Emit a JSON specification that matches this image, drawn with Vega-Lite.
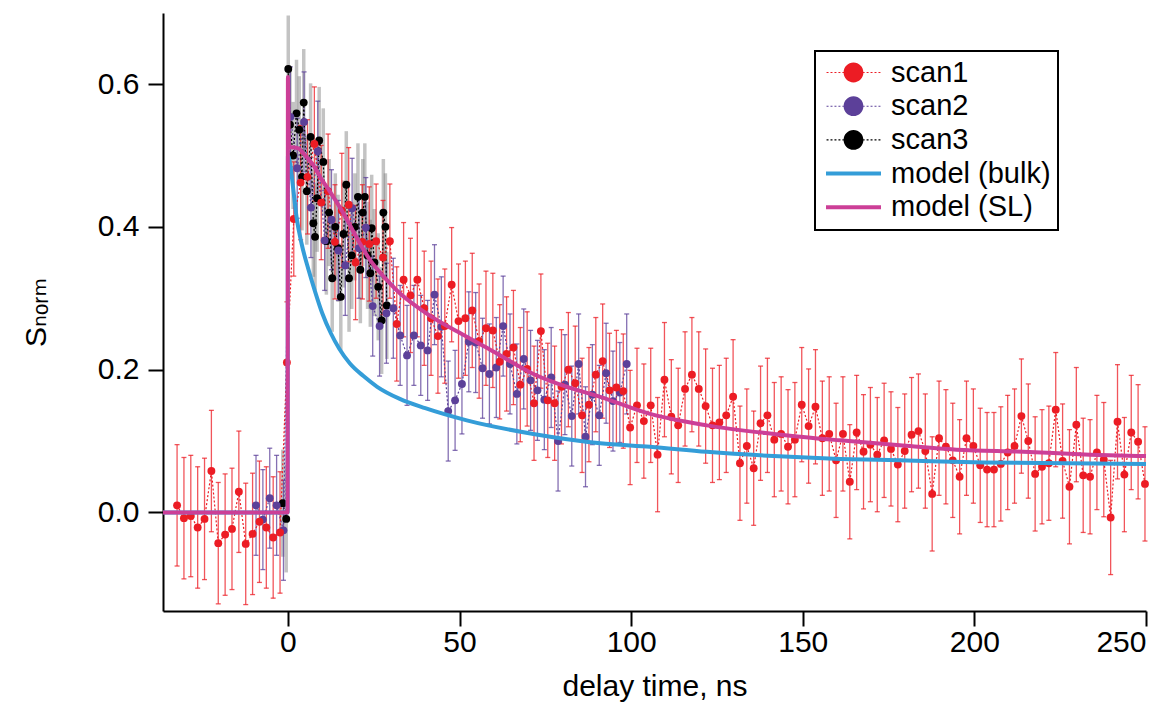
{
  "$schema": "https://vega.github.io/schema/vega-lite/v6.json",
  "width": 983,
  "height": 598,
  "autosize": {"type": "none"},
  "padding": {"left": 163, "top": 13, "right": 27, "bottom": 93},
  "background": "white",
  "config": {
    "view": {"stroke": null},
    "font": "Liberation Sans",
    "legend": {"strokeWidth": 2},
    "axis": {
      "labelFont": "Liberation Sans", "labelFontSize": 30, "labelColor": "black",
      "titleFont": "Liberation Sans, DejaVu Sans", "titleFontSize": 30, "titleFontWeight": "normal", "titleColor": "black",
      "domainColor": "black", "domainWidth": 2, "tickColor": "black", "tickWidth": 2, "tickSize": 15, "grid": false
    }
  },
  "datasets": {
    "pts": [
      {"s":"scan3","x":-1.5,"y":0.013,"e":0.075},{"s":"scan3","x":-0.5,"y":-0.009,"e":0.075},{"s":"scan3","x":0.1,"y":0.621,"e":0.075},{"s":"scan3","x":0.6,"y":0.543,"e":0.075},{"s":"scan3","x":1.5,"y":0.50,"e":0.075},{"s":"scan3","x":2.5,"y":0.559,"e":0.075},{"s":"scan3","x":3.3,"y":0.536,"e":0.075},{"s":"scan3","x":4.1,"y":0.47,"e":0.075},{"s":"scan3","x":4.6,"y":0.574,"e":0.075},{"s":"scan3","x":5.5,"y":0.45,"e":0.075},{"s":"scan3","x":6.6,"y":0.526,"e":0.075},{"s":"scan3","x":7.4,"y":0.405,"e":0.075},{"s":"scan3","x":7.9,"y":0.386,"e":0.075},{"s":"scan3","x":8.5,"y":0.44,"e":0.075},{"s":"scan3","x":9.1,"y":0.521,"e":0.075},{"s":"scan3","x":10.3,"y":0.491,"e":0.075},{"s":"scan3","x":11.2,"y":0.38,"e":0.075},{"s":"scan3","x":12.0,"y":0.42,"e":0.075},{"s":"scan3","x":12.9,"y":0.328,"e":0.075},{"s":"scan3","x":13.8,"y":0.40,"e":0.075},{"s":"scan3","x":14.6,"y":0.37,"e":0.075},{"s":"scan3","x":15.4,"y":0.302,"e":0.075},{"s":"scan3","x":16.2,"y":0.39,"e":0.075},{"s":"scan3","x":17.0,"y":0.459,"e":0.075},{"s":"scan3","x":17.8,"y":0.328,"e":0.075},{"s":"scan3","x":18.6,"y":0.36,"e":0.075},{"s":"scan3","x":19.5,"y":0.40,"e":0.075},{"s":"scan3","x":20.4,"y":0.442,"e":0.075},{"s":"scan3","x":21.1,"y":0.34,"e":0.075},{"s":"scan3","x":21.8,"y":0.42,"e":0.075},{"s":"scan3","x":22.4,"y":0.442,"e":0.075},{"s":"scan3","x":23.2,"y":0.36,"e":0.075},{"s":"scan3","x":24.0,"y":0.335,"e":0.075},{"s":"scan3","x":24.4,"y":0.398,"e":0.075},{"s":"scan3","x":25.2,"y":0.35,"e":0.075},{"s":"scan3","x":26.3,"y":0.316,"e":0.075},{"s":"scan3","x":27.3,"y":0.269,"e":0.075},{"s":"scan3","x":27.8,"y":0.42,"e":0.075},{"s":"scan3","x":28.4,"y":0.40,"e":0.075},{"s":"scan3","x":28.8,"y":0.29,"e":0.075},

      {"s":"scan2","x":-9.3,"y":0.010,"e":0.07},{"s":"scan2","x":-7.3,"y":-0.010,"e":0.07},{"s":"scan2","x":-5.3,"y":0.020,"e":0.07},{"s":"scan2","x":-3.3,"y":0.010,"e":0.07},{"s":"scan2","x":-1.3,"y":-0.025,"e":0.07},{"s":"scan2","x":0.7,"y":0.554,"e":0.07},{"s":"scan2","x":2.7,"y":0.482,"e":0.07},{"s":"scan2","x":4.7,"y":0.547,"e":0.07},{"s":"scan2","x":6.7,"y":0.427,"e":0.07},{"s":"scan2","x":8.7,"y":0.506,"e":0.07},{"s":"scan2","x":10.7,"y":0.381,"e":0.07},{"s":"scan2","x":12.7,"y":0.410,"e":0.07},{"s":"scan2","x":14.7,"y":0.367,"e":0.07},{"s":"scan2","x":16.7,"y":0.346,"e":0.07},{"s":"scan2","x":18.7,"y":0.426,"e":0.07},{"s":"scan2","x":20.7,"y":0.37,"e":0.07},{"s":"scan2","x":22.7,"y":0.399,"e":0.07},{"s":"scan2","x":24.7,"y":0.289,"e":0.07},{"s":"scan2","x":26.7,"y":0.261,"e":0.07},{"s":"scan2","x":28.7,"y":0.279,"e":0.07},{"s":"scan2","x":30.7,"y":0.286,"e":0.07},{"s":"scan2","x":32.7,"y":0.248,"e":0.07},{"s":"scan2","x":34.7,"y":0.220,"e":0.07},{"s":"scan2","x":36.7,"y":0.248,"e":0.07},{"s":"scan2","x":38.7,"y":0.234,"e":0.07},{"s":"scan2","x":40.7,"y":0.227,"e":0.07},{"s":"scan2","x":42.7,"y":0.305,"e":0.07},{"s":"scan2","x":44.7,"y":0.260,"e":0.07},{"s":"scan2","x":46.7,"y":0.142,"e":0.07},{"s":"scan2","x":48.7,"y":0.157,"e":0.07},{"s":"scan2","x":50.7,"y":0.180,"e":0.07},{"s":"scan2","x":52.7,"y":0.239,"e":0.07},{"s":"scan2","x":54.7,"y":0.238,"e":0.07},{"s":"scan2","x":56.7,"y":0.202,"e":0.07},{"s":"scan2","x":58.7,"y":0.194,"e":0.07},{"s":"scan2","x":60.7,"y":0.203,"e":0.07},{"s":"scan2","x":62.7,"y":0.261,"e":0.07},{"s":"scan2","x":64.7,"y":0.208,"e":0.07},{"s":"scan2","x":66.7,"y":0.166,"e":0.07},{"s":"scan2","x":68.7,"y":0.215,"e":0.07},{"s":"scan2","x":70.7,"y":0.185,"e":0.07},{"s":"scan2","x":72.7,"y":0.171,"e":0.07},{"s":"scan2","x":74.7,"y":0.158,"e":0.07},{"s":"scan2","x":76.7,"y":0.189,"e":0.07},{"s":"scan2","x":78.7,"y":0.100,"e":0.07},{"s":"scan2","x":80.7,"y":0.179,"e":0.07},{"s":"scan2","x":82.7,"y":0.135,"e":0.07},{"s":"scan2","x":84.7,"y":0.208,"e":0.07},{"s":"scan2","x":86.7,"y":0.106,"e":0.07},{"s":"scan2","x":88.7,"y":0.165,"e":0.07},{"s":"scan2","x":90.7,"y":0.136,"e":0.07},{"s":"scan2","x":92.7,"y":0.195,"e":0.07},{"s":"scan2","x":94.7,"y":0.156,"e":0.07},{"s":"scan2","x":96.7,"y":0.168,"e":0.07},{"s":"scan2","x":98.7,"y":0.208,"e":0.07},

      {"s":"scan1","x":-32.3,"y":0.010,"e":0.085},{"s":"scan1","x":-30.3,"y":-0.008,"e":0.085},{"s":"scan1","x":-28.3,"y":-0.005,"e":0.085},{"s":"scan1","x":-26.3,"y":-0.021,"e":0.085},{"s":"scan1","x":-24.3,"y":-0.009,"e":0.085},{"s":"scan1","x":-22.3,"y":0.058,"e":0.085},{"s":"scan1","x":-20.3,"y":-0.043,"e":0.085},{"s":"scan1","x":-18.3,"y":-0.031,"e":0.085},{"s":"scan1","x":-16.3,"y":-0.023,"e":0.085},{"s":"scan1","x":-14.3,"y":0.029,"e":0.085},{"s":"scan1","x":-12.3,"y":-0.044,"e":0.085},{"s":"scan1","x":-10.3,"y":-0.030,"e":0.085},{"s":"scan1","x":-8.3,"y":-0.013,"e":0.085},{"s":"scan1","x":-6.3,"y":-0.021,"e":0.085},{"s":"scan1","x":-4.3,"y":-0.035,"e":0.085},{"s":"scan1","x":-2.3,"y":-0.028,"e":0.085},{"s":"scan1","x":-0.3,"y":0.21,"e":0.085},
      {"s":"scan1","x":1.7,"y":0.411,"e":0.08},{"s":"scan1","x":3.7,"y":0.462,"e":0.08},{"s":"scan1","x":5.7,"y":0.470,"e":0.08},{"s":"scan1","x":7.7,"y":0.516,"e":0.08},{"s":"scan1","x":9.7,"y":0.434,"e":0.08},{"s":"scan1","x":11.7,"y":0.450,"e":0.08},{"s":"scan1","x":13.7,"y":0.379,"e":0.08},{"s":"scan1","x":15.7,"y":0.423,"e":0.08},{"s":"scan1","x":17.7,"y":0.431,"e":0.08},{"s":"scan1","x":19.7,"y":0.350,"e":0.08},{"s":"scan1","x":21.7,"y":0.379,"e":0.08},{"s":"scan1","x":23.7,"y":0.376,"e":0.08},{"s":"scan1","x":25.7,"y":0.380,"e":0.08},{"s":"scan1","x":27.7,"y":0.357,"e":0.08},{"s":"scan1","x":29.7,"y":0.380,"e":0.08},{"s":"scan1","x":31.7,"y":0.264,"e":0.08},{"s":"scan1","x":33.7,"y":0.326,"e":0.08},{"s":"scan1","x":35.7,"y":0.304,"e":0.08},{"s":"scan1","x":37.7,"y":0.326,"e":0.08},{"s":"scan1","x":39.7,"y":0.286,"e":0.08},{"s":"scan1","x":41.7,"y":0.272,"e":0.08},{"s":"scan1","x":43.7,"y":0.247,"e":0.08},{"s":"scan1","x":45.7,"y":0.261,"e":0.08},{"s":"scan1","x":47.7,"y":0.319,"e":0.08},{"s":"scan1","x":49.7,"y":0.268,"e":0.08},{"s":"scan1","x":51.7,"y":0.272,"e":0.08},{"s":"scan1","x":53.7,"y":0.283,"e":0.08},{"s":"scan1","x":55.7,"y":0.240,"e":0.08},{"s":"scan1","x":57.7,"y":0.258,"e":0.08},{"s":"scan1","x":59.7,"y":0.255,"e":0.08},{"s":"scan1","x":61.7,"y":0.211,"e":0.08},{"s":"scan1","x":63.7,"y":0.222,"e":0.08},{"s":"scan1","x":65.7,"y":0.231,"e":0.08},{"s":"scan1","x":67.7,"y":0.179,"e":0.08},{"s":"scan1","x":69.7,"y":0.201,"e":0.08},{"s":"scan1","x":71.7,"y":0.153,"e":0.08},{"s":"scan1","x":73.7,"y":0.254,"e":0.08},{"s":"scan1","x":75.7,"y":0.157,"e":0.08},{"s":"scan1","x":77.7,"y":0.153,"e":0.08},{"s":"scan1","x":79.7,"y":0.176,"e":0.08},{"s":"scan1","x":81.7,"y":0.200,"e":0.08},{"s":"scan1","x":83.7,"y":0.181,"e":0.08},{"s":"scan1","x":85.7,"y":0.136,"e":0.08},{"s":"scan1","x":87.7,"y":0.151,"e":0.08},{"s":"scan1","x":89.7,"y":0.193,"e":0.08},{"s":"scan1","x":91.7,"y":0.212,"e":0.08},{"s":"scan1","x":93.7,"y":0.171,"e":0.08},{"s":"scan1","x":95.7,"y":0.175,"e":0.08},{"s":"scan1","x":97.7,"y":0.170,"e":0.08},{"s":"scan1","x":99.7,"y":0.119,"e":0.08},{"s":"scan1","x":101.7,"y":0.150,"e":0.08},{"s":"scan1","x":103.7,"y":0.128,"e":0.08},{"s":"scan1","x":105.7,"y":0.150,"e":0.08},{"s":"scan1","x":107.7,"y":0.081,"e":0.08},{"s":"scan1","x":109.7,"y":0.186,"e":0.08},{"s":"scan1","x":111.7,"y":0.134,"e":0.08},{"s":"scan1","x":113.7,"y":0.122,"e":0.08},{"s":"scan1","x":115.7,"y":0.173,"e":0.08},{"s":"scan1","x":117.7,"y":0.193,"e":0.08},{"s":"scan1","x":119.7,"y":0.173,"e":0.08},{"s":"scan1","x":121.7,"y":0.149,"e":0.08},{"s":"scan1","x":123.7,"y":0.122,"e":0.08},{"s":"scan1","x":125.7,"y":0.126,"e":0.08},{"s":"scan1","x":127.7,"y":0.136,"e":0.08},{"s":"scan1","x":129.7,"y":0.162,"e":0.08},{"s":"scan1","x":131.7,"y":0.069,"e":0.08},{"s":"scan1","x":133.7,"y":0.093,"e":0.08},{"s":"scan1","x":135.7,"y":0.062,"e":0.08},{"s":"scan1","x":137.7,"y":0.125,"e":0.08},{"s":"scan1","x":139.7,"y":0.136,"e":0.08},{"s":"scan1","x":141.7,"y":0.102,"e":0.08},{"s":"scan1","x":143.7,"y":0.110,"e":0.08},{"s":"scan1","x":145.7,"y":0.092,"e":0.08},{"s":"scan1","x":147.7,"y":0.102,"e":0.08},{"s":"scan1","x":149.7,"y":0.151,"e":0.08},{"s":"scan1","x":151.7,"y":0.121,"e":0.08},{"s":"scan1","x":153.7,"y":0.148,"e":0.08},{"s":"scan1","x":155.7,"y":0.104,"e":0.08},{"s":"scan1","x":157.7,"y":0.110,"e":0.08},{"s":"scan1","x":159.7,"y":0.073,"e":0.08},{"s":"scan1","x":161.7,"y":0.110,"e":0.08},{"s":"scan1","x":163.7,"y":0.043,"e":0.08},{"s":"scan1","x":165.7,"y":0.112,"e":0.08},{"s":"scan1","x":167.7,"y":0.085,"e":0.08},{"s":"scan1","x":169.7,"y":0.095,"e":0.08},{"s":"scan1","x":171.7,"y":0.081,"e":0.08},{"s":"scan1","x":173.7,"y":0.101,"e":0.08},{"s":"scan1","x":175.7,"y":0.089,"e":0.08},{"s":"scan1","x":177.7,"y":0.067,"e":0.08},{"s":"scan1","x":179.7,"y":0.086,"e":0.08},{"s":"scan1","x":181.7,"y":0.109,"e":0.08},{"s":"scan1","x":183.7,"y":0.114,"e":0.08},{"s":"scan1","x":185.7,"y":0.086,"e":0.08},{"s":"scan1","x":187.7,"y":0.026,"e":0.08},{"s":"scan1","x":189.7,"y":0.104,"e":0.08},{"s":"scan1","x":191.7,"y":0.092,"e":0.08},{"s":"scan1","x":193.7,"y":0.073,"e":0.08},{"s":"scan1","x":195.7,"y":0.050,"e":0.08},{"s":"scan1","x":197.7,"y":0.104,"e":0.08},{"s":"scan1","x":199.7,"y":0.093,"e":0.08},{"s":"scan1","x":201.7,"y":0.066,"e":0.08},{"s":"scan1","x":203.7,"y":0.060,"e":0.08},{"s":"scan1","x":205.7,"y":0.060,"e":0.08},{"s":"scan1","x":207.7,"y":0.068,"e":0.08},{"s":"scan1","x":209.7,"y":0.084,"e":0.08},{"s":"scan1","x":211.7,"y":0.093,"e":0.08},{"s":"scan1","x":213.7,"y":0.135,"e":0.08},{"s":"scan1","x":215.7,"y":0.100,"e":0.08},{"s":"scan1","x":217.7,"y":0.054,"e":0.08},{"s":"scan1","x":219.7,"y":0.064,"e":0.08},{"s":"scan1","x":221.7,"y":0.069,"e":0.08},{"s":"scan1","x":223.7,"y":0.144,"e":0.08},{"s":"scan1","x":225.7,"y":0.072,"e":0.08},{"s":"scan1","x":227.7,"y":0.036,"e":0.08},{"s":"scan1","x":229.7,"y":0.123,"e":0.08},{"s":"scan1","x":231.7,"y":0.052,"e":0.08},{"s":"scan1","x":233.7,"y":0.050,"e":0.08},{"s":"scan1","x":235.7,"y":0.084,"e":0.08},{"s":"scan1","x":237.7,"y":0.074,"e":0.08},{"s":"scan1","x":239.7,"y":-0.007,"e":0.08},{"s":"scan1","x":241.7,"y":0.127,"e":0.08},{"s":"scan1","x":243.7,"y":0.053,"e":0.08},{"s":"scan1","x":245.7,"y":0.112,"e":0.08},{"s":"scan1","x":247.7,"y":0.099,"e":0.08},{"s":"scan1","x":249.7,"y":0.040,"e":0.08}
    ],
    "mdl": [
      {"s":"model (bulk)","x":-36.4,"y":0},{"s":"model (bulk)","x":-0.1,"y":0},{"s":"model (bulk)","x":0.0,"y":0.50},{"s":"model (bulk)","x":0.8,"y":0.483},{"s":"model (bulk)","x":1.5,"y":0.455},{"s":"model (bulk)","x":2.5,"y":0.414},{"s":"model (bulk)","x":4,"y":0.376},{"s":"model (bulk)","x":6,"y":0.340},{"s":"model (bulk)","x":8,"y":0.308},{"s":"model (bulk)","x":10,"y":0.279},{"s":"model (bulk)","x":12.5,"y":0.251},{"s":"model (bulk)","x":15,"y":0.229},{"s":"model (bulk)","x":18,"y":0.209},{"s":"model (bulk)","x":22,"y":0.191},{"s":"model (bulk)","x":26,"y":0.176},{"s":"model (bulk)","x":32.6,"y":0.159},{"s":"model (bulk)","x":40,"y":0.146},{"s":"model (bulk)","x":52.1,"y":0.129},{"s":"model (bulk)","x":71.5,"y":0.11},{"s":"model (bulk)","x":91,"y":0.097},{"s":"model (bulk)","x":105.5,"y":0.092},{"s":"model (bulk)","x":122,"y":0.085},{"s":"model (bulk)","x":141.5,"y":0.079},{"s":"model (bulk)","x":160.8,"y":0.075},{"s":"model (bulk)","x":178.3,"y":0.073},{"s":"model (bulk)","x":203,"y":0.07},{"s":"model (bulk)","x":250,"y":0.068},
      {"s":"model (SL)","x":-36.4,"y":0},{"s":"model (SL)","x":-0.1,"y":0},{"s":"model (SL)","x":0.0,"y":0.61},{"s":"model (SL)","x":0.3,"y":0.512},{"s":"model (SL)","x":3,"y":0.51},{"s":"model (SL)","x":5,"y":0.50},{"s":"model (SL)","x":7,"y":0.489},{"s":"model (SL)","x":10,"y":0.465},{"s":"model (SL)","x":12,"y":0.451},{"s":"model (SL)","x":17,"y":0.412},{"s":"model (SL)","x":20,"y":0.385},{"s":"model (SL)","x":24,"y":0.353},{"s":"model (SL)","x":28,"y":0.33},{"s":"model (SL)","x":32.6,"y":0.307},{"s":"model (SL)","x":40,"y":0.28},{"s":"model (SL)","x":52.1,"y":0.246},{"s":"model (SL)","x":60,"y":0.225},{"s":"model (SL)","x":71.5,"y":0.194},{"s":"model (SL)","x":80,"y":0.178},{"s":"model (SL)","x":91,"y":0.162},{"s":"model (SL)","x":105.5,"y":0.138},{"s":"model (SL)","x":122,"y":0.122},{"s":"model (SL)","x":141.5,"y":0.11},{"s":"model (SL)","x":160.8,"y":0.101},{"s":"model (SL)","x":178.3,"y":0.094},{"s":"model (SL)","x":194.8,"y":0.088},{"s":"model (SL)","x":214.2,"y":0.085},{"s":"model (SL)","x":233.7,"y":0.081},{"s":"model (SL)","x":250,"y":0.079}
    ]
  },
  "encoding": {
    "x": {"field": "x", "type": "quantitative",
      "scale": {"domain": [-36.4, 250], "nice": false, "zero": false},
      "axis": {"values": [0, 50, 100, 150, 200, 250], "title": "delay time, ns", "labelPadding": 1, "titlePadding": 14}},
    "y": {"field": "y", "type": "quantitative",
      "scale": {"domain": [-0.138, 0.6995], "nice": false, "zero": false},
      "axis": {"values": [0, 0.2, 0.4, 0.6], "format": ".1f", "title": "S\u2099\u2092\u1d63\u2098", "labelPadding": 9, "titlePadding": 46}}
  },
  "layer": [
    {"data": {"name": "pts"}, "transform": [{"filter": "datum.s == 'none'"}],
     "mark": {"type": "point", "filled": true},
     "encoding": {
       "color": {"field": "s", "type": "nominal",
         "scale": {"domain": ["scan1", "scan2", "scan3", "model (bulk)", "model (SL)"], "range": ["#ec1c24", "#5c4099", "#000000", "#349dd8", "#cc3f97"]},
         "legend": {"orient": "none", "legendX": 652, "legendY": 38, "title": null, "strokeColor": "black", "padding": 7,
           "labelFont": "Liberation Sans", "labelFontSize": 29, "labelColor": "black", "labelLimit": 400, "labelOffset": 23,
           "symbolOffset": 17, "symbolSize": 484, "symbolStrokeWidth": 0, "symbolOpacity": 1, "rowPadding": 3.7}},
       "shape": {"field": "s", "type": "nominal",
         "scale": {"domain": ["scan1", "scan2", "scan3", "model (bulk)", "model (SL)"],
           "range": [
             "M-0.9,0A0.9,0.9,0,1,0,0.9,0A0.9,0.9,0,1,0,-0.9,0Z M-2.45,-0.05H-2.27V0.05H-2.45Z M-2.09,-0.05H-1.91V0.05H-2.09Z M-1.73,-0.05H-1.55V0.05H-1.73Z M-1.37,-0.05H-1.19V0.05H-1.37Z M-1.01,-0.05H-0.9V0.05H-1.01Z M0.9,-0.05H1.01V0.05H0.9Z M1.19,-0.05H1.37V0.05H1.19Z M1.55,-0.05H1.73V0.05H1.55Z M1.91,-0.05H2.09V0.05H1.91Z M2.27,-0.05H2.45V0.05H2.27Z",
             "M-0.9,0A0.9,0.9,0,1,0,0.9,0A0.9,0.9,0,1,0,-0.9,0Z M-2.45,-0.05H-2.27V0.05H-2.45Z M-2.09,-0.05H-1.91V0.05H-2.09Z M-1.73,-0.05H-1.55V0.05H-1.73Z M-1.37,-0.05H-1.19V0.05H-1.37Z M-1.01,-0.05H-0.9V0.05H-1.01Z M0.9,-0.05H1.01V0.05H0.9Z M1.19,-0.05H1.37V0.05H1.19Z M1.55,-0.05H1.73V0.05H1.55Z M1.91,-0.05H2.09V0.05H1.91Z M2.27,-0.05H2.45V0.05H2.27Z",
             "M-0.9,0A0.9,0.9,0,1,0,0.9,0A0.9,0.9,0,1,0,-0.9,0Z M-2.45,-0.05H-2.27V0.05H-2.45Z M-2.09,-0.05H-1.91V0.05H-2.09Z M-1.73,-0.05H-1.55V0.05H-1.73Z M-1.37,-0.05H-1.19V0.05H-1.37Z M-1.01,-0.05H-0.9V0.05H-1.01Z M0.9,-0.05H1.01V0.05H0.9Z M1.19,-0.05H1.37V0.05H1.19Z M1.55,-0.05H1.73V0.05H1.55Z M1.91,-0.05H2.09V0.05H1.91Z M2.27,-0.05H2.45V0.05H2.27Z",
             "M-2.5,-0.18H2.5V0.18H-2.5Z",
             "M-2.5,-0.18H2.5V0.18H-2.5Z"]},
         "legend": {"orient": "none", "legendX": 652, "legendY": 38, "title": null, "strokeColor": "black", "padding": 7,
           "labelFont": "Liberation Sans", "labelFontSize": 29, "labelColor": "black", "labelLimit": 400, "labelOffset": 23,
           "symbolOffset": 17, "symbolSize": 484, "symbolStrokeWidth": 0, "symbolOpacity": 1, "rowPadding": 3.7}}
     }},
    {"data": {"name": "pts"}, "transform": [{"filter": "datum.s == 'scan3'"}],
     "mark": {"type": "errorbar", "color": "#7a7a7a", "opacity": 0.45, "thickness": 3.5},
     "encoding": {"yError": {"field": "e"}}},
    {"data": {"name": "pts"}, "transform": [{"filter": "datum.s == 'scan2'"}],
     "mark": {"type": "errorbar", "color": "#5c4099", "opacity": 0.75, "thickness": 1.3, "ticks": {"size": 5}},
     "encoding": {"yError": {"field": "e"}}},
    {"data": {"name": "pts"}, "transform": [{"filter": "datum.s == 'scan1'"}],
     "mark": {"type": "errorbar", "color": "#ec1c24", "opacity": 0.75, "thickness": 1.3, "ticks": {"size": 5}},
     "encoding": {"yError": {"field": "e"}}},
    {"data": {"name": "pts"}, "transform": [{"filter": "datum.s == 'scan3'"}],
     "mark": {"type": "line", "color": "#000000", "strokeWidth": 1.2, "strokeDash": [2, 2]}, "encoding": {}},
    {"data": {"name": "pts"}, "transform": [{"filter": "datum.s == 'scan2'"}],
     "mark": {"type": "line", "color": "#5c4099", "strokeWidth": 1.2, "strokeDash": [2, 2]}, "encoding": {}},
    {"data": {"name": "pts"}, "transform": [{"filter": "datum.s == 'scan1'"}],
     "mark": {"type": "line", "color": "#ec1c24", "strokeWidth": 1.2, "strokeDash": [2, 2]}, "encoding": {}},
    {"data": {"name": "pts"}, "transform": [{"filter": "datum.s == 'scan3'"}],
     "mark": {"type": "point", "filled": true, "opacity": 1, "size": 62, "shape": "circle", "color": "#000000"}},
    {"data": {"name": "pts"}, "transform": [{"filter": "datum.s == 'scan2'"}],
     "mark": {"type": "point", "filled": true, "opacity": 1, "size": 62, "shape": "circle", "color": "#5c4099"}},
    {"data": {"name": "pts"}, "transform": [{"filter": "datum.s == 'scan1'"}],
     "mark": {"type": "point", "filled": true, "opacity": 1, "size": 62, "shape": "circle", "color": "#ec1c24"}},
    {"data": {"name": "mdl"}, "transform": [{"filter": "datum.s == 'model (bulk)'"}],
     "mark": {"type": "line", "color": "#349dd8", "strokeWidth": 4, "interpolate": "monotone"}, "encoding": {}},
    {"data": {"name": "mdl"}, "transform": [{"filter": "datum.s == 'model (SL)'"}],
     "mark": {"type": "line", "color": "#cc3f97", "strokeWidth": 4, "interpolate": "monotone"}, "encoding": {}}
  ]
}
